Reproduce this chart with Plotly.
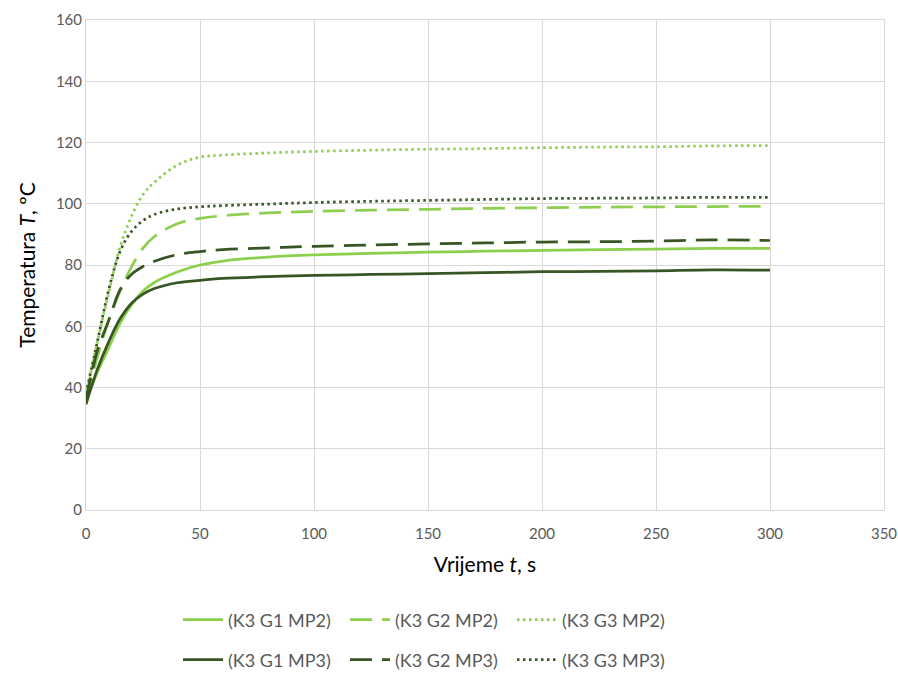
import plotly.graph_objects as go

t = [0, 5, 10, 15, 20, 25, 30, 40, 50, 60, 80, 100, 125, 150, 175, 200, 225, 250, 275, 300]

g1_mp2 = [35.5, 45, 53, 61, 67, 71.5, 74.3, 77.7, 80.0, 81.3, 82.6, 83.3, 83.8, 84.2, 84.5, 84.8, 85.0, 85.2, 85.4, 85.4]
g2_mp2 = [36, 50, 62, 71.5, 79.5, 85.5, 89.3, 93.5, 95.2, 96.1, 97.0, 97.5, 97.9, 98.2, 98.5, 98.7, 98.9, 99.0, 99.1, 99.2]
g3_mp2 = [37, 55, 71, 86, 96, 103, 107, 112.6, 115.2, 115.9, 116.6, 117.1, 117.5, 117.8, 118.0, 118.3, 118.5, 118.6, 118.9, 119.0]
g1_mp3 = [34.5, 46, 55, 62.5, 67.5, 70.5, 72.3, 74.2, 75.0, 75.6, 76.2, 76.6, 76.9, 77.2, 77.5, 77.8, 77.9, 78.1, 78.4, 78.3]
g2_mp3 = [36, 52, 62, 72, 77, 79.5, 81.2, 83.4, 84.4, 85.0, 85.6, 86.1, 86.5, 86.9, 87.2, 87.5, 87.6, 87.8, 88.2, 88.0]
g3_mp3 = [38, 55, 72, 84.5, 91, 94.5, 96.5, 98.3, 99.0, 99.4, 99.9, 100.4, 100.8, 101.1, 101.4, 101.7, 101.8, 101.9, 102.1, 102.1]

names_mp2 = ["(K3 G1 MP2)", "(K3 G2 MP2)", "(K3 G3 MP2)"]
names_mp3 = ["(K3 G1 MP3)", "(K3 G2 MP3)", "(K3 G3 MP3)"]

LIGHT = "#8DCF4E"
DARK = "#375623"
DASHES = ["solid", "22px,10px", "2.5px,3.5px"]
FONT = "Lato"

fig = go.Figure()
for i, (y, nm) in enumerate(zip([g1_mp2, g2_mp2, g3_mp2], names_mp2)):
    fig.add_trace(go.Scatter(x=t, y=y, name=nm, mode="lines",
                             line=dict(color=LIGHT, width=2.75, dash=DASHES[i], shape="spline"),
                             legend="legend"))
for i, (y, nm) in enumerate(zip([g1_mp3, g2_mp3, g3_mp3], names_mp3)):
    fig.add_trace(go.Scatter(x=t, y=y, name=nm, mode="lines",
                             line=dict(color=DARK, width=2.75, dash=DASHES[i], shape="spline"),
                             legend="legend2"))

legend_common = dict(orientation="h", xanchor="left", yanchor="middle",
                     xref="container", yref="container",
                     font=dict(family=FONT, size=18, color="#595959"),
                     entrywidthmode="pixels", entrywidth=112,
                     itemwidth=40, bgcolor="rgba(0,0,0,0)", traceorder="normal")

W, H = 898, 673
fig.update_layout(
    width=W, height=H,
    margin=dict(l=86, r=14, t=20, b=163),
    paper_bgcolor="white", plot_bgcolor="white",
    font=dict(family=FONT, color="#595959"),
    legend=dict(x=178 / W, y=1 - 620 / H, **legend_common),
    legend2=dict(x=178 / W, y=1 - 660 / H, **legend_common),
    xaxis=dict(range=[0, 350], dtick=50, tick0=0, showgrid=True, gridcolor="#D9D9D9", gridwidth=1,
               showline=True, linecolor="#D9D9D9", linewidth=1, mirror=True, zeroline=False,
               ticks="", ticklabelstandoff=10, automargin=False,
               tickfont=dict(family=FONT, size=15, color="#595959"),
               title=dict(text="Vrijeme <i>t</i>, s", font=dict(family=FONT, size=21, color="#000000"), standoff=16)),
    yaxis=dict(range=[0, 160], dtick=20, tick0=0, showgrid=True, gridcolor="#D9D9D9", gridwidth=1,
               showline=True, linecolor="#D9D9D9", linewidth=1, mirror=True, zeroline=False,
               ticks="", automargin=False,
               tickfont=dict(family=FONT, size=15, color="#595959"),
               title=dict(text="Temperatura <i>T</i>, ºC", font=dict(family=FONT, size=21, color="#000000"), standoff=14)),
)

fig.write_html("out.html", config={"displayModeBar": False},
               post_script="document.body.style.margin='0';document.body.style.overflow='hidden';")
